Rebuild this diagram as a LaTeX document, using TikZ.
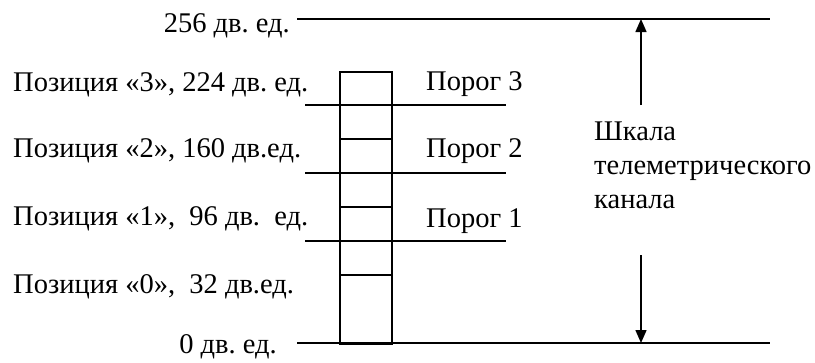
\documentclass[tikz,border=0pt]{standalone}
\usepackage{fontspec}
\setmainfont{Liberation Serif}
\usetikzlibrary{arrows.meta}
\frenchspacing
\begin{document}
\begin{tikzpicture}[x=1pt,y=-1pt,
  lbl/.style={font=\fontsize{28.5}{34}\selectfont, inner sep=0pt},
  ln/.style={line width=1.5pt},
  arr/.style={line width=1.5pt, -{Triangle[width=11pt,length=13pt]}}]
\useasboundingbox (0,0) rectangle (815,362);
% scale limits
\coordinate (topL) at (297,19); \coordinate (topR) at (770,19);
\coordinate (botL) at (297,343); \coordinate (botR) at (770,343);
\draw[ln] (topL) -- (topR);
\draw[ln] (botL) -- (botR);
% column
\node[draw, ln, inner sep=0pt, minimum width=52pt, minimum height=272pt, anchor=north west] (col) at (339,71) {};
\foreach \yy in {139,207,275} \draw[ln] (col.west |- 0,\yy) -- (col.east |- 0,\yy);
% thresholds
\coordinate (t3L) at (305,105); \coordinate (t3R) at (506,105);
\coordinate (t2L) at (305,173); \coordinate (t2R) at (506,173);
\coordinate (t1L) at (305,241); \coordinate (t1R) at (506,241);
\draw[ln] (t3L) -- (t3R);
\draw[ln] (t2L) -- (t2R);
\draw[ln] (t1L) -- (t1R);
% labels left
\node[lbl, anchor=base east] (l256) at (290,32) {256 дв. ед.};
\node[lbl, anchor=base west] (p3) at (13,91) {Позиция «3», 224 дв. ед.};
\node[lbl, anchor=base west] (p2) at (13,157) {Позиция «2», 160 дв.ед.};
\node[lbl, anchor=base west] (p1) at (13,225) {Позиция «1»,\ \ 96 дв.\ \ ед.};
\node[lbl, anchor=base west] (p0) at (13,293) {Позиция «0»,\ \ 32 дв.ед.};
\node[lbl, anchor=base east] (l0) at (277,353) {0 дв. ед.};
% thresholds labels
\node[lbl, anchor=base west] (th3) at (426,90) {Порог 3};
\node[lbl, anchor=base west] (th2) at (426,157) {Порог 2};
\node[lbl, anchor=base west] (th1) at (426,227) {Порог 1};
% scale label
\node[lbl, anchor=base west] (s1) at (594,140) {Шкала};
\node[lbl, anchor=base west] (s2) at (594,174) {телеметрического};
\node[lbl, anchor=base west] (s3) at (594,208) {канала};
% arrows
\coordinate (aup) at (641,105);
\coordinate (adn) at (641,255);
\draw[arr] (aup) -- (aup |- topL);
\draw[arr] (adn) -- (adn |- botL);
\end{tikzpicture}
\end{document}
